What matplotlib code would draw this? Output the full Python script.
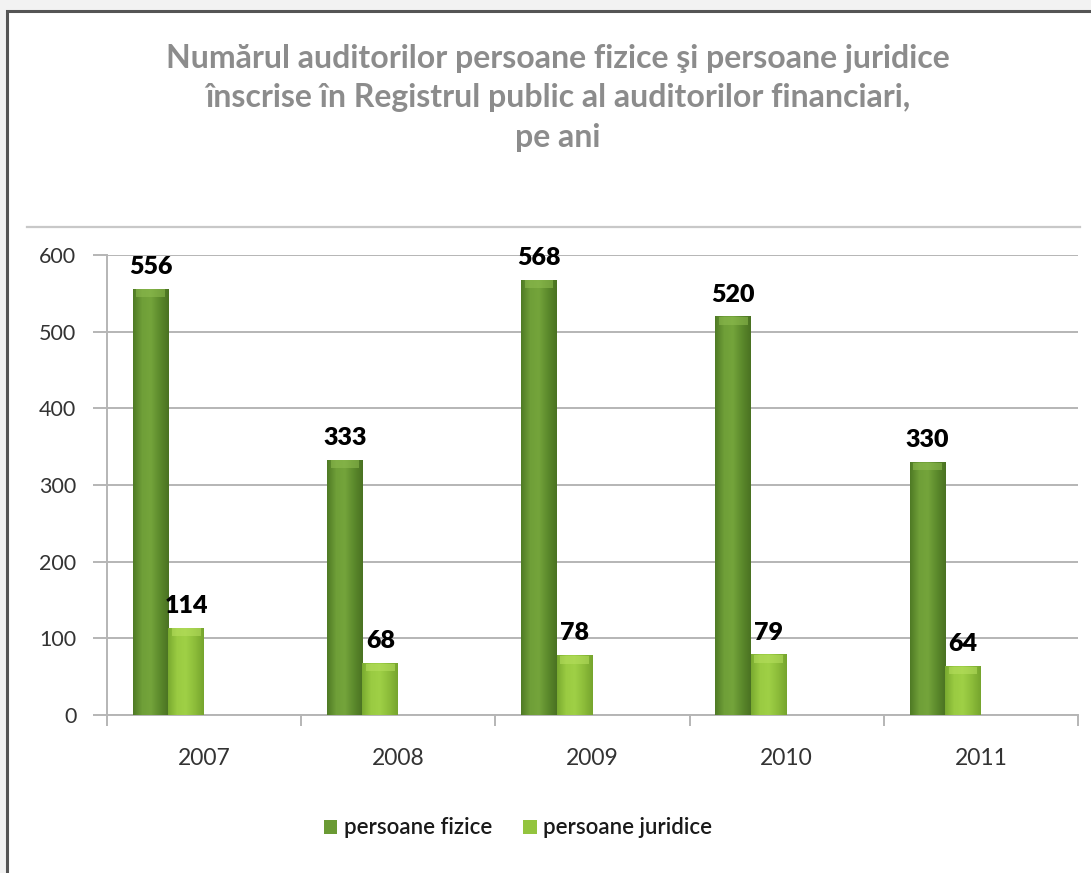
import numpy as np
import matplotlib
matplotlib.use('Agg')
import matplotlib.pyplot as plt
from matplotlib.patches import Rectangle
from matplotlib.colors import LinearSegmentedColormap

plt.rcParams.update({
    'font.family': ['Lato', 'DejaVu Sans'],
    'axes.linewidth': 1.2,
})

years = ['2007', '2008', '2009', '2010', '2011']
fizice = [556, 333, 568, 520, 330]
juridice = [114, 68, 78, 79, 64]
yticks = [0, 100, 200, 300, 400, 500, 600]
title = ("Numărul auditorilor persoane fizice şi persoane juridice\n"
         "înscrise în Registrul public al auditorilor financiari,\n"
         "pe ani")

fig = plt.figure(figsize=(10.91, 8.73), dpi=100)
fig.patch.set_facecolor('#f2f2f2')

# white card with dark border on top/left
card = Rectangle((7 / 1091, -0.05), 1.1, 1 - 11 / 873 + 0.05, transform=fig.transFigure,
                 facecolor='white', edgecolor='#555555', lw=2.2, zorder=-5)
fig.patches.append(card)
# separator line under title
fig.add_artist(plt.Line2D([27 / 1091, 1080 / 1091], [1 - 227 / 873] * 2,
                          transform=fig.transFigure, color='#c8c8c8', lw=1.6, zorder=-4))

fig.text(558 / 1091, 1 - 98 / 873, title, ha='center', va='center',
         fontsize=23, fontweight='bold', color='#8c8c8c', linespacing=1.45)

ax = fig.add_axes([107 / 1091, 1 - 715 / 873, (1078 - 107) / 1091, (715 - 255) / 873])
ax.set_facecolor('none')

x = np.arange(len(years))
w = 0.185
dark_cmap = LinearSegmentedColormap.from_list('d', ['#4f7a25', '#6f9f38', '#74a43b', '#5c8a2c', '#4a7222'])
light_cmap = LinearSegmentedColormap.from_list('l', ['#7aab30', '#9acb42', '#9fd046', '#8dbd3a', '#76a52e'])

b1 = ax.bar(x - 0.275, fizice, w, color='#6a9a34', zorder=3, label='persoane fizice')
b2 = ax.bar(x - 0.092, juridice, w, color='#93c43e', zorder=3, label='persoane juridice')

grad = np.linspace(0, 1, 64).reshape(1, -1)
for bars, cmap, top in [(b1, dark_cmap, '#8fbd50'), (b2, light_cmap, '#b8e060')]:
    for b in bars:
        x0, y0 = b.get_x(), b.get_y()
        bw, bh = b.get_width(), b.get_height()
        im = ax.imshow(grad, cmap=cmap, aspect='auto', extent=[x0, x0 + bw, y0, y0 + bh],
                       zorder=3.5)
        im.set_clip_path(b)
        ax.add_patch(Rectangle((x0 + bw * 0.1, y0 + bh - 11), bw * 0.8, 10,
                               facecolor=top, edgecolor='none', zorder=4, alpha=0.55))

for bars, vals in [(b1, fizice), (b2, juridice)]:
    for b, v in zip(bars, vals):
        ax.text(b.get_x() + b.get_width() / 2, v + 14, str(v), ha='center', va='bottom',
                fontsize=18, fontweight='heavy', color='black', zorder=6)

ax.set_xlim(-0.5, len(years) - 0.5)
ax.set_ylim(0, 600)
ax.set_yticks(yticks)
ax.set_yticklabels([str(t) for t in yticks], fontsize=15.5, color='#333333')
ax.yaxis.grid(True, color='#b5b5b5', lw=1.4, zorder=0)
ax.tick_params(axis='y', length=10, color='#b5b5b5', width=1.4, pad=12)

ax.set_xticks(x)
ax.set_xticklabels(years, fontsize=16.5, color='#333333')
ax.set_xticks(np.arange(len(years) + 1) - 0.5, minor=True)
ax.tick_params(axis='x', which='major', length=0, pad=24)
ax.tick_params(axis='x', which='minor', length=8, color='#b5b5b5', width=1.4)

for s in ['top', 'right']:
    ax.spines[s].set_visible(False)
ax.spines['left'].set_color('#b5b5b5')
ax.spines['bottom'].set_color('#b5b5b5')
ax.spines['left'].set_linewidth(1.4)
ax.spines['bottom'].set_linewidth(1.4)

leg = fig.legend(handles=[b1, b2], loc='center', bbox_to_anchor=(518 / 1091, 1 - 828 / 873),
                 ncol=2, frameon=False, fontsize=16, handlelength=0.6, handleheight=0.6,
                 handletextpad=0.3, columnspacing=1.4)
for t in leg.get_texts():
    t.set_fontweight('semibold')
    t.set_color('#1a1a1a')

fig.savefig('out.png', dpi=100, facecolor=fig.get_facecolor())
